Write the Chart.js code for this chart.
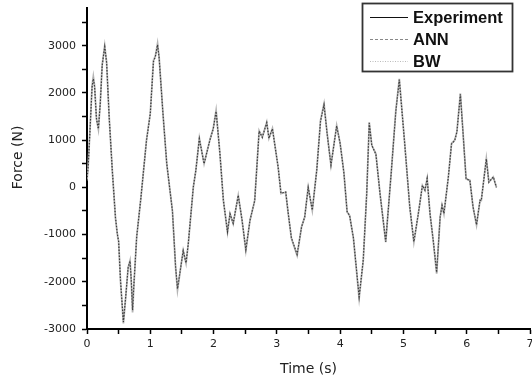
<!DOCTYPE html>
<html><head><meta charset="utf-8">
<script src="https://cdn.jsdelivr.net/npm/chart.js@4.4.0/dist/chart.umd.min.js"></script>
<style>html,body{margin:0;padding:0;background:#fff;}#wrap{width:532px;height:382px;}</style>
</head><body><div id="wrap"><canvas id="c" width="532" height="382"></canvas></div>
<script>
const time = [0.00,0.02,0.05,0.08,0.10,0.12,0.15,0.18,0.21,0.24,0.28,0.31,0.35,0.40,0.45,0.48,0.50,0.53,0.575,0.61,0.65,0.68,0.70,0.72,0.74,0.785,0.85,0.94,1.00,1.05,1.08,1.115,1.14,1.20,1.26,1.31,1.35,1.40,1.43,1.47,1.52,1.565,1.60,1.68,1.72,1.775,1.85,1.94,1.995,2.04,2.10,2.155,2.22,2.26,2.31,2.39,2.45,2.51,2.575,2.65,2.72,2.77,2.84,2.875,2.93,3.02,3.065,3.14,3.18,3.23,3.32,3.39,3.44,3.495,3.56,3.63,3.69,3.745,3.795,3.855,3.945,4.00,4.06,4.11,4.15,4.21,4.30,4.365,4.42,4.46,4.50,4.565,4.63,4.72,4.81,4.88,4.935,5.02,5.10,5.165,5.235,5.30,5.34,5.375,5.42,5.47,5.525,5.58,5.61,5.64,5.71,5.76,5.81,5.845,5.90,5.94,5.99,6.05,6.10,6.155,6.21,6.23,6.31,6.35,6.42,6.47];
const experiment = [150,500,1300,2150,2350,2150,1450,1230,1800,2600,3000,2650,1500,350,-650,-1000,-1150,-2000,-2880,-2350,-1700,-1550,-2000,-2650,-2100,-1050,-250,1000,1570,2690,2780,3050,2750,1570,500,-60,-500,-1700,-2180,-1800,-1340,-1610,-1200,0,360,1040,500,1000,1250,1630,720,-280,-950,-560,-770,-170,-700,-1340,-700,-280,1200,1060,1380,1040,1250,430,-130,-100,-560,-1080,-1440,-840,-630,0,-490,360,1420,1770,1140,470,1310,930,300,-520,-600,-1080,-2350,-1550,-130,1380,890,710,-130,-1160,360,1630,2300,930,-420,-1160,-560,40,-60,190,-560,-1120,-1830,-630,-380,-560,220,930,1000,1180,1990,1200,180,150,-420,-800,-280,-280,610,110,220,0];
const ann = [150,480,1280,2120,2300,2130,1450,1240,1780,2580,2980,2640,1500,360,-640,-990,-1150,-1980,-2850,-2340,-1700,-1560,-1980,-2600,-2080,-1050,-240,990,1560,2660,2770,3020,2740,1570,510,-50,-500,-1680,-2150,-1790,-1340,-1600,-1200,10,360,1030,500,990,1240,1610,720,-270,-940,-560,-760,-170,-690,-1320,-700,-280,1190,1060,1370,1040,1240,430,-120,-100,-550,-1070,-1420,-840,-630,0,-480,360,1400,1750,1130,470,1300,930,300,-510,-600,-1070,-2320,-1540,-120,1360,890,700,-130,-1150,360,1610,2280,930,-410,-1150,-560,40,-60,190,-550,-1110,-1800,-630,-380,-550,220,920,990,1170,1970,1190,180,150,-410,-790,-270,-280,600,110,220,0];
const bw = [150,490,1290,2140,2330,2140,1460,1250,1790,2590,2990,2650,1510,360,-640,-1000,-1140,-1990,-2860,-2340,-1690,-1550,-1990,-2550,-2090,-1040,-250,1000,1560,2670,2780,3030,2750,1580,500,-60,-490,-1690,-2120,-1800,-1330,-1600,-1190,0,370,1040,510,1000,1250,1620,730,-280,-950,-550,-770,-160,-700,-1330,-690,-270,1200,1070,1380,1050,1250,440,-130,-90,-560,-1080,-1430,-830,-620,10,-490,370,1410,1760,1140,480,1310,940,310,-520,-590,-1080,-2330,-1540,-130,1370,900,710,-120,-1160,370,1620,2290,940,-420,-1150,-550,50,-50,200,-560,-1120,-1810,-620,-370,-560,230,930,1000,1180,1980,1200,190,160,-420,-790,-280,-270,610,120,230,0];
const seriesNames = ['Experiment','ANN','BW'];
const xTickLabels = [0,1,2,3,4,5,6,7];
const yTickLabels = [-3000,-2000,-1000,0,1000,2000,3000];
const xMinorTicks = [0.5,1.5,2.5,3.5,4.5,5.5,6.5];
const yMinorTicks = [-2500,-1500,-500,500,1500,2500,3500];

const toXY = arr => arr.map((v,i) => ({x: time[i], y: v}));
const styles = [
  {color:'#b4b4b4', dash:[], width:1.8, order:3, legendColor:'#111', legendDash:[]},
  {color:'#3c3c3c', dash:[1.5,1.5], width:1.2, order:1, legendColor:'#888', legendDash:[3,2]},
  {color:'#9a9a9a', dash:[1,2], width:1, order:2, legendColor:'#bbb', legendDash:[1,1.5]}
];
const seriesData = [experiment, ann, bw];

const legendPlugin = {
  id: 'boxLegend',
  afterDraw(chart) {
    const ctx = chart.ctx;
    ctx.save();
    ctx.strokeStyle = '#333';
    ctx.lineWidth = 1.8;
    ctx.strokeRect(362.5, 3.5, 150, 68);
    ctx.font = 'bold 16.5px "Liberation Sans", Arial, sans-serif';
    ctx.textBaseline = 'middle';
    ctx.fillStyle = '#111';
    chart.data.datasets.forEach((ds, i) => {
      const y = 17 + i * 22;
      ctx.beginPath();
      ctx.strokeStyle = styles[i].legendColor;
      ctx.lineWidth = 1.2;
      ctx.setLineDash(styles[i].legendDash);
      ctx.moveTo(370, y + 0.5);
      ctx.lineTo(408, y + 0.5);
      ctx.stroke();
      ctx.setLineDash([]);
      ctx.fillText(ds.label, 413, y + 1);
    });
    ctx.restore();
  }
};

const tickFont = {family: '"DejaVu Sans", sans-serif', size: 11};
const titleFont = {family: '"DejaVu Sans", sans-serif', size: 14};

new Chart(document.getElementById('c'), {
  type: 'line',
  data: {
    datasets: seriesNames.map((name, i) => ({
      label: name,
      data: toXY(seriesData[i]),
      borderColor: styles[i].color,
      borderDash: styles[i].dash,
      borderWidth: styles[i].width,
      order: styles[i].order,
      pointRadius: 0,
      tension: 0,
      fill: false
    }))
  },
  options: {
    responsive: false,
    animation: false,
    devicePixelRatio: 1,
    layout: {padding: {left: 4, right: 2, top: 8, bottom: 4}},
    plugins: {legend: {display: false}, tooltip: {enabled: false}},
    scales: {
      x: {
        type: 'linear', min: 0, max: 7,
        afterBuildTicks: s => { s.ticks = xTickLabels.concat(xMinorTicks).sort((a,b)=>a-b).map(v => ({value: v})); },
        afterFit: s => { s.height = 382 - 329 - 4; s.paddingLeft = 0; s.paddingRight = 0; },
        ticks: {font: tickFont, color: '#222', padding: 4, maxRotation: 0, autoSkip: false,
          callback: v => xTickLabels.includes(v) ? String(v) : ''},
        grid: {display: true, drawOnChartArea: false, drawTicks: true, tickLength: 5, tickColor: '#000', tickWidth: 1.5},
        border: {display: true, color: '#000', width: 2},
        title: {display: true, text: 'Time (s)', font: titleFont, color: '#222', padding: {top: 0, bottom: 0}}
      },
      y: {
        type: 'linear', min: -3000, max: 3800,
        afterBuildTicks: s => { s.ticks = yTickLabels.concat(yMinorTicks).sort((a,b)=>a-b).map(v => ({value: v})); },
        afterFit: s => { s.width = 87 - 4; s.paddingTop = 0; s.paddingBottom = 0; },
        ticks: {font: tickFont, color: '#222', padding: 6, autoSkip: false,
          callback: v => yTickLabels.includes(v) ? String(v) : ''},
        grid: {display: true, drawOnChartArea: false, drawTicks: true, tickLength: 5, tickColor: '#000', tickWidth: 1.5},
        border: {display: true, color: '#000', width: 2},
        title: {display: true, text: '     Force (N)', font: titleFont, color: '#222', padding: {top: 6, bottom: 0}}
      }
    }
  },
  plugins: [legendPlugin]
});
</script></body></html>
